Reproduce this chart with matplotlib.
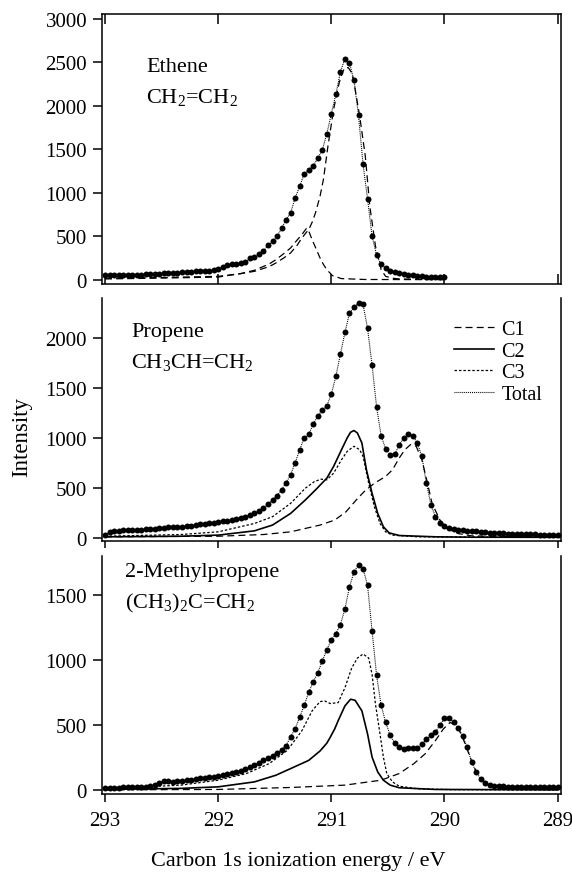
import matplotlib
matplotlib.use("Agg")
import matplotlib.pyplot as plt

plt.rcParams['font.family'] = ['Liberation Serif', 'DejaVu Serif']
plt.rcParams['mathtext.fontset'] = 'custom'
plt.rcParams['mathtext.rm'] = 'Liberation Serif'
plt.rcParams['mathtext.it'] = 'Liberation Serif:italic'
plt.rcParams['lines.scale_dashes'] = False

# ---- measured spectra (energy in eV, intensity) ----
e_eth = [293.00, 292.96, 292.92, 292.88, 292.84, 292.80, 292.76, 292.72, 292.68, 292.64,
         292.60, 292.56, 292.52, 292.48, 292.44, 292.40, 292.36, 292.32, 292.28, 292.24,
         292.20, 292.16, 292.12, 292.08, 292.04, 292.00, 291.96, 291.92, 291.88, 291.84,
         291.80, 291.76, 291.72, 291.68, 291.64, 291.60, 291.56, 291.52, 291.48, 291.44,
         291.40, 291.36, 291.32, 291.28, 291.24, 291.20, 291.16, 291.12, 291.08, 291.04,
         291.00, 290.96, 290.92, 290.88, 290.84, 290.80, 290.76, 290.72, 290.68, 290.64,
         290.60, 290.56, 290.52, 290.48, 290.44, 290.40, 290.36, 290.32, 290.28, 290.24,
         290.20, 290.16, 290.12, 290.08, 290.04, 290.00]
i_eth = [50, 52, 48, 50, 55, 52, 50, 48, 55, 60,
         62, 65, 68, 72, 75, 78, 82, 85, 88, 92,
         95, 98, 102, 105, 110, 118, 145, 170, 178, 183,
         190, 205, 245, 265, 290, 330, 395, 440, 500, 590,
         690, 770, 940, 1075, 1215, 1265, 1310, 1400, 1490, 1680,
         1910, 2135, 2390, 2545, 2490, 2300, 1890, 1330, 930, 500,
         280, 175, 135, 105, 90, 78, 65, 55, 48, 42,
         38, 35, 32, 30, 28, 25]

e_grid = [293.00, 292.96, 292.92, 292.88, 292.84, 292.80, 292.76, 292.72, 292.68, 292.64,
          292.60, 292.56, 292.52, 292.48, 292.44, 292.40, 292.36, 292.32, 292.28, 292.24,
          292.20, 292.16, 292.12, 292.08, 292.04, 292.00, 291.96, 291.92, 291.88, 291.84,
          291.80, 291.76, 291.72, 291.68, 291.64, 291.60, 291.56, 291.52, 291.48, 291.44,
          291.40, 291.36, 291.32, 291.28, 291.24, 291.20, 291.16, 291.12, 291.08, 291.04,
          291.00, 290.96, 290.92, 290.88, 290.84, 290.80, 290.76, 290.72, 290.68, 290.64,
          290.60, 290.56, 290.52, 290.48, 290.44, 290.40, 290.36, 290.32, 290.28, 290.24,
          290.20, 290.16, 290.12, 290.08, 290.04, 290.00, 289.96, 289.92, 289.88, 289.84,
          289.80, 289.76, 289.72, 289.68, 289.64, 289.60, 289.56, 289.52, 289.48, 289.44,
          289.40, 289.36, 289.32, 289.28, 289.24, 289.20, 289.16, 289.12, 289.08, 289.04,
          289.00]
i_prop = [30, 55, 65, 70, 72, 74, 76, 78, 80, 82,
          85, 90, 95, 100, 103, 105, 107, 108, 112, 118,
          125, 131, 138, 145, 150, 158, 163, 170, 176, 182,
          195, 210, 225, 242, 265, 295, 335, 375, 420, 480,
          550, 630, 750, 880, 1000, 1035, 1140, 1220, 1280, 1320,
          1440, 1620, 1840, 2060, 2250, 2310, 2355, 2340, 2100, 1730,
          1310, 1020, 890, 830, 835, 930, 1000, 1040, 1020, 950,
          815, 545, 330, 210, 150, 115, 95, 82, 78, 74,
          70, 67, 62, 58, 52, 48, 46, 44, 42, 40,
          39, 38, 36, 34, 33, 32, 30, 29, 28, 27,
          25]
i_mp = [18, 17, 18, 19, 20, 20, 22, 22, 24, 26,
        30, 38, 55, 72, 70, 64, 68, 72, 76, 80,
        85, 89, 93, 98, 102, 106, 112, 120, 132, 140,
        148, 160, 175, 190, 210, 230, 245, 265, 285, 310,
        340, 410, 470, 560, 650, 750, 830, 900, 990, 1077,
        1150, 1200, 1270, 1390, 1560, 1670, 1730, 1700, 1570, 1220,
        880, 650, 520, 420, 360, 330, 318, 325, 325, 320,
        355, 390, 420, 445, 500, 550, 550, 525, 480, 415,
        330, 215, 140, 85, 55, 42, 33, 30, 28, 27,
        26, 25, 25, 24, 25, 25, 24, 25, 25, 25,
        26]

# ---- fitted components ----
e_eth_a = [293.00, 292.50, 292.00, 291.80, 291.68, 291.55, 291.49, 291.42, 291.36, 291.30,
           291.27, 291.23, 291.20, 291.17, 291.14, 291.10, 291.07, 291.03, 290.98, 290.93,
           290.90, 290.88, 290.85, 290.82, 290.80, 290.75, 290.70, 290.66, 290.61, 290.56,
           290.52, 290.45, 290.40, 290.20, 290.00]
i_eth_a = [15, 25, 38, 70, 96, 150, 192, 250, 308, 400,
           462, 530, 577, 660, 770, 960, 1154, 1538, 1960, 2270,
           2390, 2440, 2440, 2380, 2270, 1885, 1423, 846, 385, 115,
           38, 15, 8, 4, 2]
e_eth_b = [293.00, 292.50, 292.00, 291.80, 291.68, 291.55, 291.49, 291.42, 291.36, 291.30,
           291.26, 291.22, 291.20, 291.17, 291.13, 291.10, 291.07, 291.04, 290.99, 290.91,
           290.70, 290.00]
i_eth_b = [8, 18, 30, 70, 108, 180, 230, 300, 365, 460,
           520, 590, 560, 460, 340, 250, 175, 115, 46, 12,
           2, 0]

e_prop_c1 = [293.00, 292.00, 291.60, 291.36, 291.10, 290.97, 290.87, 290.78, 290.71, 290.62,
             290.52, 290.46, 290.40, 290.35, 290.30, 290.25, 290.20, 290.15, 290.11, 290.04,
             289.98, 289.88, 289.76, 289.43, 289.00]
i_prop_c1 = [7, 13, 30, 57, 125, 175, 259, 377, 461, 545,
             613, 680, 798, 882, 933, 916, 781, 545, 343, 175,
             91, 40, 17, 7, 3]
e_prop_c2 = [293.00, 292.33, 292.00, 291.68, 291.52, 291.36, 291.23, 291.14, 291.04, 290.98,
             290.91, 290.86, 290.83, 290.80, 290.77, 290.73, 290.69, 290.64, 290.59, 290.54,
             290.49, 290.40, 290.08, 289.76, 289.00]
i_prop_c2 = [7, 13, 24, 67, 125, 242, 377, 478, 596, 714,
             882, 1000, 1057, 1074, 1050, 949, 680, 444, 242, 108,
             47, 20, 7, 3, 2]
e_prop_c3 = [293.00, 292.33, 292.00, 291.68, 291.52, 291.36, 291.23, 291.15, 291.09, 291.04,
             290.98, 290.91, 290.86, 290.80, 290.75, 290.72, 290.67, 290.62, 290.57, 290.52,
             290.46, 290.24, 289.00]
i_prop_c3 = [13, 30, 57, 141, 209, 343, 495, 562, 586, 579,
             646, 781, 865, 916, 882, 815, 545, 310, 141, 57,
             24, 7, 2]

e_mp_c1 = [293.00, 292.00, 291.36, 290.88, 290.56, 290.40, 290.27, 290.17, 290.08, 290.01,
           289.95, 289.89, 289.84, 289.79, 289.74, 289.69, 289.63, 289.53, 289.37, 289.00]
i_mp_c1 = [2, 5, 20, 38, 76, 127, 203, 279, 380, 469,
           519, 494, 405, 291, 177, 101, 51, 20, 8, 3]
e_mp_c2 = [293.00, 292.33, 292.00, 291.68, 291.49, 291.36, 291.20, 291.10, 291.04, 291.01,
           290.97, 290.94, 290.88, 290.83, 290.79, 290.73, 290.68, 290.64, 290.59, 290.54,
           290.48, 290.40, 290.08, 289.00]
i_mp_c2 = [5, 13, 25, 63, 114, 165, 228, 300, 360, 405,
           470, 532, 646, 697, 689, 608, 431, 253, 139, 76,
           38, 18, 5, 2]
e_mp_c3 = [293.00, 292.52, 292.33, 292.00, 291.75, 291.55, 291.39, 291.26, 291.17, 291.10,
           291.06, 291.01, 290.94, 290.88, 290.82, 290.77, 290.72, 290.67, 290.64, 290.61,
           290.57, 290.54, 290.51, 290.46, 290.40, 290.24, 289.92, 289.00]
i_mp_c3 = [13, 30, 38, 76, 127, 203, 304, 456, 608, 679,
           684, 664, 671, 785, 937, 1013, 1044, 1013, 887, 659,
           431, 253, 127, 63, 30, 10, 3, 2]

xticks = [293, 292, 291, 290, 289]
W, H = 572, 878

def box(l, t, r, b):
    return [l / W, 1 - b / H, (r - l) / W, (b - t) / H]

fig = plt.figure(figsize=(W / 100, H / 100), dpi=100)
ax1 = fig.add_axes(box(101.7, 15, 561, 285))
ax2 = fig.add_axes(box(101.7, 299, 561, 542))
ax3 = fig.add_axes(box(101.7, 557, 561, 795))

C1 = (0, (5, 3))
C3 = (0, (1.8, 1.4))
TOT = (0, (0.7, 0.7))
dot = dict(marker='o', ms=4.3, mec='none', color='black', ls='none', zorder=4)

# ethene
ax1.plot(e_eth, i_eth, color='black', ls=TOT, lw=0.8, zorder=3)
ax1.plot(e_eth, i_eth, **dot)
ax1.plot(e_eth_a, i_eth_a, color='black', ls=C1, lw=0.9)
ax1.plot(e_eth_b, i_eth_b, color='black', ls=C1, lw=0.9)
ax1.set_ylim(-50, 3058)
ax1.set_yticks([0, 500, 1000, 1500, 2000, 2500, 3000])

# propene
ax2.plot(e_prop_c1, i_prop_c1, color='black', ls=C1, lw=0.9, label='C1')
ax2.plot(e_prop_c2, i_prop_c2, color='black', ls='-', lw=1.2, label='C2')
ax2.plot(e_prop_c3, i_prop_c3, color='black', ls=C3, lw=0.9, label='C3')
ax2.plot(e_grid, i_prop, color='black', ls=TOT, lw=0.8, zorder=3, label='Total')
ax2.plot(e_grid, i_prop, **dot)
ax2.set_ylim(-35, 2405)
ax2.set_yticks([0, 500, 1000, 1500, 2000])

# 2-methylpropene
ax3.plot(e_mp_c1, i_mp_c1, color='black', ls=C1, lw=0.9)
ax3.plot(e_mp_c2, i_mp_c2, color='black', ls='-', lw=1.2)
ax3.plot(e_mp_c3, i_mp_c3, color='black', ls=C3, lw=0.9)
ax3.plot(e_grid, i_mp, color='black', ls=TOT, lw=0.8, zorder=3)
ax3.plot(e_grid, i_mp, **dot)
ax3.set_ylim(-30, 1796)
ax3.set_yticks([0, 500, 1000, 1500])

for ax in (ax1, ax2, ax3):
    ax.set_xlim(293.03, 288.97)
    ax.set_xticks(xticks)
    for s in ax.spines.values():
        s.set_linewidth(1.1)
    ax.tick_params(axis='y', direction='out', length=6.5, width=1.1,
                   labelsize=15, pad=4)

ax1.tick_params(axis='x', direction='in', length=7, width=1.1, top=True,
                labelbottom=False)
ax2.spines['top'].set_visible(False)
ax3.spines['top'].set_visible(False)
ax2.tick_params(axis='x', direction='out', length=5, width=1.1, labelbottom=False)
ax3.tick_params(axis='x', direction='out', length=5.5, width=1.1, labelsize=15, pad=7)
ax3.set_xticklabels([str(t) for t in xticks])

def txt(x, y, s, **kw):
    fig.text(x / W, 1 - y / H, s, **kw)

lab = dict(fontsize=16, ha='left', va='center')
txt(146, 68, 'Ethene', **lab)
txt(146, 98, 'CH$_2$=CH$_2$', **lab)
txt(131, 333, 'Propene', **lab)
txt(131, 363, 'CH$_3$CH=CH$_2$', **lab)
txt(125, 572, '2-Methylpropene', **lab)
txt(125, 603, '(CH$_3$)$_2$C=CH$_2$', **lab)

ax2.legend(loc='upper left', bbox_to_anchor=(444 / W, 1 - 311 / H),
           bbox_transform=fig.transFigure, frameon=False, fontsize=14.5,
           handlelength=2.0, handletextpad=0.35, labelspacing=0.12, borderpad=0)

txt(22, 437, 'Intensity', fontsize=16.5, rotation=90, ha='center', va='center')
txt(298, 862, 'Carbon 1s ionization energy / eV', fontsize=16, ha='center', va='center')

fig.savefig('out.png', dpi=100)
